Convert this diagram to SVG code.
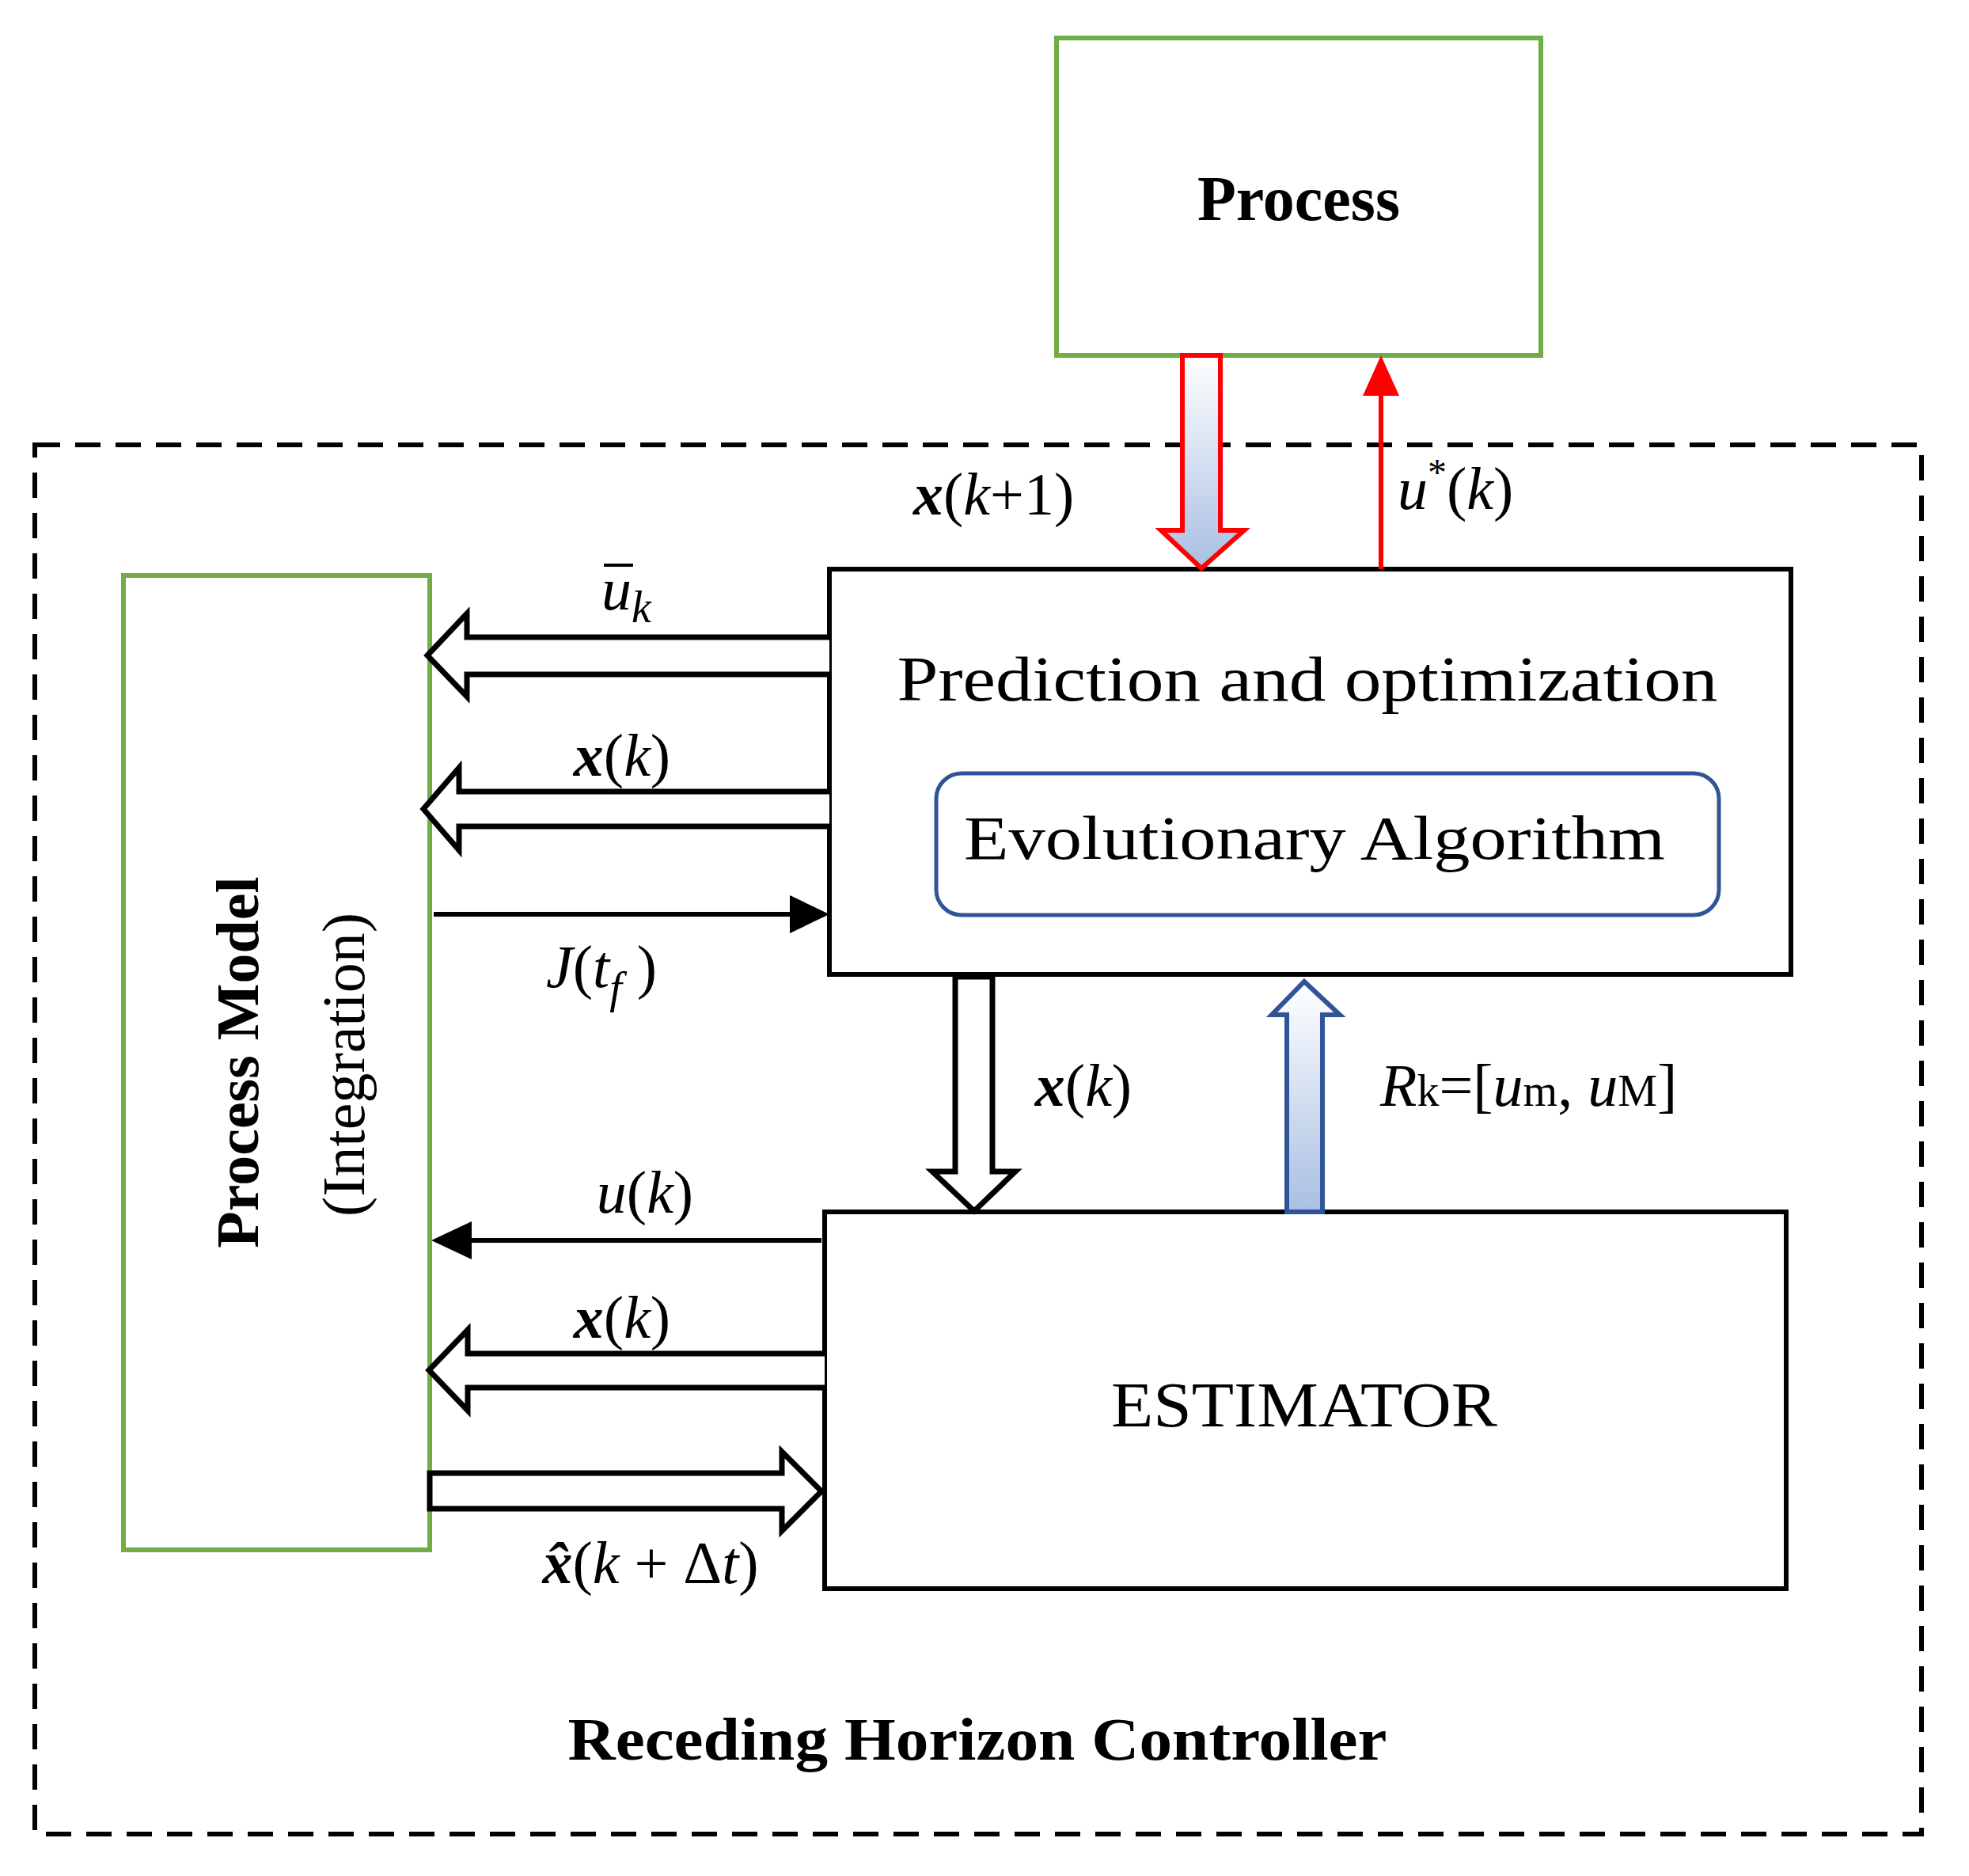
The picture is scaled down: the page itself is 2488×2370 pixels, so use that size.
<svg xmlns="http://www.w3.org/2000/svg" width="2488" height="2370" viewBox="0 0 2488 2370">
<defs>
<linearGradient id="gb" x1="0" y1="0" x2="0" y2="1"><stop offset="0" stop-color="#ffffff"/><stop offset="1" stop-color="#a9bfe3"/></linearGradient>
<linearGradient id="gu" x1="0" y1="1" x2="0" y2="0"><stop offset="0" stop-color="#a9bfe3"/><stop offset="1" stop-color="#ffffff"/></linearGradient>
</defs>
<style>
text{font-family:"Liberation Serif","Times New Roman",serif;fill:#000}
.t{font-size:76px}
.b{font-weight:bold}
.i{font-style:italic}
.blk{fill:none;stroke:#000;stroke-width:6}
.grn{fill:#fff;stroke:#70ad47;stroke-width:6}
.hol{fill:#fff;stroke:#000;stroke-width:7;stroke-linejoin:miter}
</style>
<rect width="2488" height="2370" fill="#fff"/>
<rect x="44" y="562" width="2384" height="1755" fill="none" stroke="#000" stroke-width="6" stroke-dasharray="32 19"/>
<g id="process"><rect class="grn" x="1335" y="48" width="612" height="401"/><text class="b" x="1641" y="278" font-size="80" text-anchor="middle">Process</text></g>
<g id="model"><rect class="grn" x="156" y="727" width="387" height="1231"/>
<text class="b" font-size="76" text-anchor="middle" transform="translate(326,1342) rotate(-90)">Process Model</text>
<text font-size="76" text-anchor="middle" transform="translate(460,1345) rotate(-90)">(Integration)</text></g>
<g id="pred"><rect class="blk" x="1048" y="719" width="1215" height="512"/>
<text x="1652" y="885" font-size="80" text-anchor="middle" textLength="1037" lengthAdjust="spacingAndGlyphs">Prediction and optimization</text>
<g id="evo"><rect x="1183" y="977" width="989" height="179" rx="32" fill="none" stroke="#2f5597" stroke-width="5"/>
<text x="1661" y="1085" font-size="78" text-anchor="middle" textLength="886" lengthAdjust="spacingAndGlyphs">Evolutionary Algorithm</text></g></g>
<g id="est"><rect class="blk" x="1042" y="1531" width="1215" height="476"/>
<text x="1648" y="1802" font-size="80" text-anchor="middle" textLength="488" lengthAdjust="spacingAndGlyphs">ESTIMATOR</text></g>
<text class="b" x="1235" y="2223" font-size="76" text-anchor="middle" textLength="1035" lengthAdjust="spacingAndGlyphs">Receding Horizon Controller</text>
<g id="connectors">
<polygon points="1494,449 1542,449 1542,670 1572,670 1518,718 1467,670 1494,670" fill="url(#gb)" stroke="#f00" stroke-width="6"/>
<line x1="1745" y1="719" x2="1745" y2="495" stroke="#f00" stroke-width="6"/>
<polygon points="1745,449 1722,500 1768,500" fill="#f00"/>
<polyline class="hol" points="1048,805 590,805 590,775 540,828 590,880 590,852 1048,852"/>
<polyline class="hol" points="1048,1000 580,1000 580,970 535,1022 580,1074 580,1044 1048,1044"/>
<line x1="548" y1="1155" x2="1005" y2="1155" stroke="#000" stroke-width="6"/>
<polygon points="1048,1155 998,1131 998,1179" fill="#000"/>
<polygon class="hol" points="1207,1234 1254,1234 1254,1480 1283,1480 1231,1530 1178,1480 1207,1480"/>
<polygon points="1626,1531 1671,1531 1671,1282 1693,1282 1648,1240 1607,1282 1626,1282" fill="url(#gu)" stroke="#2f5597" stroke-width="6"/>
<line x1="1038" y1="1567" x2="590" y2="1567" stroke="#000" stroke-width="6"/>
<polygon points="545,1567 596,1543 596,1591" fill="#000"/>
<polyline class="hol" points="1042,1710 591,1710 591,1680 542,1731 591,1782 591,1753 1042,1753"/>
<polygon class="hol" points="543,1861 988,1861 988,1834 1038,1884 988,1934 988,1906 543,1906"/>
</g>
<g id="labels" class="t">
<text x="1154" y="650" class="t"><tspan class="b i">x</tspan>(<tspan class="i">k</tspan>+1)</text>
<text x="1766" y="643" class="t"><tspan class="i">u</tspan><tspan font-size="48" dy="-30">*</tspan><tspan dy="30">(</tspan><tspan class="i">k</tspan>)</text>
<text x="760" y="770" class="t i">u<tspan font-size="56" dy="16">k</tspan></text>
<line x1="763" y1="714" x2="800" y2="714" stroke="#000" stroke-width="4"/>
<text x="786" y="980" class="t" text-anchor="middle"><tspan class="b i">x</tspan>(<tspan class="i">k</tspan>)</text>
<text x="690" y="1247" class="t"><tspan class="i">J</tspan>(<tspan class="i">t</tspan><tspan class="i" font-size="56" dy="20">f</tspan><tspan dy="-20"> )</tspan></text>
<text x="1369" y="1397" class="t" text-anchor="middle"><tspan class="b i">x</tspan>(<tspan class="i">k</tspan>)</text>
<text x="1744" y="1397" class="t"><tspan class="i">R</tspan><tspan font-size="56">k</tspan>=[<tspan class="i">u</tspan><tspan font-size="56">m</tspan>, <tspan class="i">u</tspan><tspan font-size="56">M</tspan>]</text>
<text x="815" y="1532" class="t" text-anchor="middle"><tspan class="i">u</tspan>(<tspan class="i">k</tspan>)</text>
<text x="786" y="1690" class="t" text-anchor="middle"><tspan class="b i">x</tspan>(<tspan class="i">k</tspan>)</text>
<text x="822" y="2000" class="t" text-anchor="middle"><tspan class="b i">x̂</tspan>(<tspan class="i">k</tspan> + Δ<tspan class="i">t</tspan>)</text>
</g>
</svg>
